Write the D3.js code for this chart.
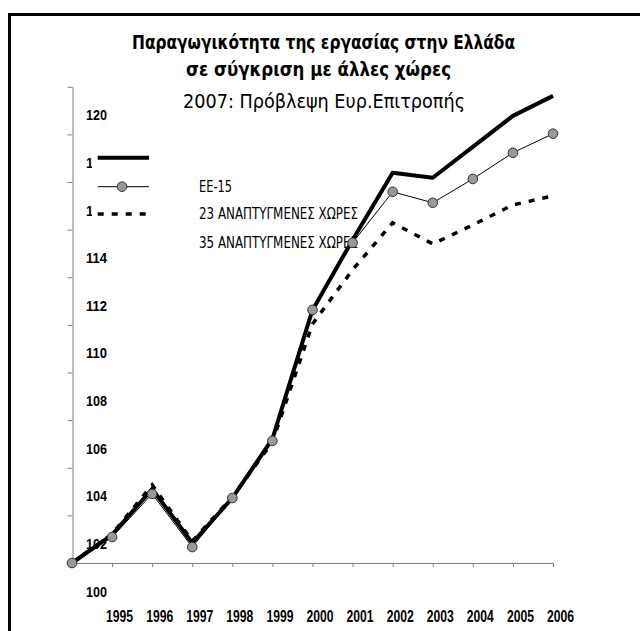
<!DOCTYPE html>
<html>
<head>
<meta charset="utf-8">
<script src="https://cdn.jsdelivr.net/npm/d3@7"></script>
<style>
  html, body { margin: 0; padding: 0; background: #fff; }
  svg { display: block; }
  .narrow { font-family: "Liberation Sans Narrow", "Arial Narrow", "DejaVu Sans Condensed", "Liberation Sans", sans-serif; font-stretch: condensed; }
</style>
</head>
<body>
<div id="chart"></div>
<script>
  // years on the x axis (1994 = base year, label not shown)
  const years = [1994, 1995, 1996, 1997, 1998, 1999, 2000, 2001, 2002, 2003, 2004, 2005, 2006];
  const yTicks = [100, 102, 104, 106, 108, 110, 112, 114, 116, 118, 120];

  // series values
  const greece = [100, 101.18, 103.11, 100.84, 102.73, 105.21, 110.63, 113.57, 116.39, 116.18, 117.48, 118.78, 119.62];
  const eu15 = [100, 101.09, 102.90, 100.67, 102.73, 105.13, 110.63, 113.45, 115.59, 115.13, 116.13, 117.23, 118.03];
  const developed23 = [100, 101.22, 103.28, 100.92, 102.77, 105.08, 110.04, 112.31, 114.29, 113.40, 114.20, 115.04, 115.42];

  const legendLabels = ['', 'ΕΕ-15', '23 ΑΝΑΠΤΥΓΜΕΝΕΣ ΧΩΡΕΣ', '35 ΑΝΑΠΤΥΓΜΕΝΕΣ ΧΩΡΕΣ'];

  const
    width = 640,
    height = 631
  ;

  const svg = d3.select('#chart')
    .append('svg')
    .attr('width', width)
    .attr('height', height)
    .attr('class', 'narrow');

  /*frame*/
  svg.append('rect')
    .attr('x', 9.5).attr('y', 14.5)
    .attr('width', 700).attr('height', 700)
    .attr('fill', 'none')
    .attr('stroke', '#000')
    .attr('stroke-width', 3);

  /*titles*/
  const titles = [
    {text: 'Παραγωγικότητα της εργασίας στην Ελλάδα', x: 132, y: 48.5, w: 383, size: 20, weight: 'bold'},
    {text: 'σε σύγκριση με άλλες χώρες', x: 186, y: 75.5, w: 265, size: 20, weight: 'bold'},
    {text: '2007: Πρόβλεψη Ευρ.Επιτροπής', x: 183, y: 108, w: 282, size: 20, weight: 'normal'}
  ];
  svg.selectAll('.title')
    .data(titles)
    .enter()
    .append('text')
    .attr('class', 'title')
    .attr('x', d => d.x)
    .attr('y', d => d.y)
    .attr('textLength', d => d.w)
    .attr('lengthAdjust', 'spacingAndGlyphs')
    .style('font-size', d => d.size + 'px')
    .style('font-weight', d => d.weight)
    .text(d => d.text);

  const x = d3.scaleLinear()
    .domain([1994, 2006])
    .range([72, 553]);

  const y = d3.scaleLinear()
    .domain([100, 120])
    .range([563, 86.8]);

  /*y axis - labels sit to the right of the axis, shifted down as in the original*/
  const yAxis = svg.append('g')
    .attr('transform', 'translate(72.5,0)')
    .call(d3.axisLeft(y).tickValues(yTicks).tickSize(5).tickSizeOuter(0));
  yAxis.select('.domain').attr('stroke', '#808080');
  yAxis.selectAll('.tick line').attr('stroke', '#808080');
  yAxis.selectAll('.tick text')
    .attr('x', 13.5)
    .attr('y', 33)
    .attr('dy', 0)
    .attr('text-anchor', 'start')
    .attr('textLength', 21)
    .attr('lengthAdjust', 'spacingAndGlyphs')
    .attr('fill', '#000')
    .style('font-size', '15px')
    .style('font-weight', 'bold')
    .attr('font-family', null)
    .attr('font-size', null);

  /*x axis*/
  const xAxis = svg.append('g')
    .attr('transform', 'translate(0,563)')
    .call(d3.axisBottom(x).tickValues(years).tickSize(4).tickSizeOuter(0)
      .tickFormat(d => d === 1994 ? '' : d));
  xAxis.select('.domain').attr('stroke', '#808080');
  xAxis.selectAll('.tick line').attr('stroke', '#808080');
  xAxis.selectAll('.tick text')
    .attr('x', 7)
    .attr('y', 59)
    .attr('dy', 0)
    .attr('fill', '#000')
    .attr('textLength', d => d === 1994 ? null : 27)
    .attr('lengthAdjust', 'spacingAndGlyphs')
    .style('font-size', '16px')
    .style('font-weight', 'bold')
    .attr('font-family', null)
    .attr('font-size', null);

  /*legend - white box covers part of the y labels*/
  const legend = svg.append('g');
  legend.append('rect')
    .attr('x', 92).attr('y', 143)
    .attr('width', 275).attr('height', 106)
    .attr('fill', '#fff');

  const legendY = [157.7, 186.7, 214, 243];
  const legendItems = legend.selectAll('.legend-item')
    .data(legendLabels)
    .enter()
    .append('g')
    .attr('class', 'legend-item')
    .attr('transform', (d, i) => `translate(0, ${legendY[i]})`);

  legendItems.append('text')
    .attr('x', 199)
    .attr('y', 0)
    .attr('dy', '0.36em')
    .attr('textLength', d => d.length > 10 ? 159 : 33)
    .attr('lengthAdjust', 'spacingAndGlyphs')
    .style('font-size', '15px')
    .text(d => d);

  // samples
  legendItems.filter((d, i) => i === 0)
    .append('line')
    .attr('x1', 97.7).attr('x2', 149)
    .attr('stroke', '#000').attr('stroke-width', 4);
  const eLeg = legendItems.filter((d, i) => i === 1);
  eLeg.append('line')
    .attr('x1', 97.7).attr('x2', 149)
    .attr('stroke', '#000').attr('stroke-width', 1);
  eLeg.append('circle')
    .attr('cx', 122).attr('cy', 0).attr('r', 4.8)
    .attr('fill', '#999').attr('stroke', '#333').attr('stroke-width', 1);
  legendItems.filter((d, i) => i === 2)
    .append('line')
    .attr('x1', 97.7).attr('x2', 151)
    .attr('stroke', '#000').attr('stroke-width', 3.5)
    .attr('stroke-dasharray', '6,8');

  /*series*/
  const line = d3.line()
    .x((d, i) => x(years[i]))
    .y(d => y(d));

  svg.append('path')
    .datum(developed23)
    .attr('d', line)
    .attr('fill', 'none')
    .attr('stroke', '#000')
    .attr('stroke-width', 3.5)
    .attr('stroke-dasharray', '6,8');

  svg.append('path')
    .datum(greece)
    .attr('d', line)
    .attr('fill', 'none')
    .attr('stroke', '#000')
    .attr('stroke-width', 4)
    .attr('stroke-linejoin', 'round');

  svg.append('path')
    .datum(eu15)
    .attr('d', line)
    .attr('fill', 'none')
    .attr('stroke', '#000')
    .attr('stroke-width', 1);

  svg.selectAll('.eu-dot')
    .data(eu15)
    .enter()
    .append('circle')
    .attr('class', 'eu-dot')
    .attr('cx', (d, i) => x(years[i]))
    .attr('cy', d => y(d))
    .attr('r', 4.8)
    .attr('fill', '#999')
    .attr('stroke', '#333')
    .attr('stroke-width', 1);
</script>
</body>
</html>
